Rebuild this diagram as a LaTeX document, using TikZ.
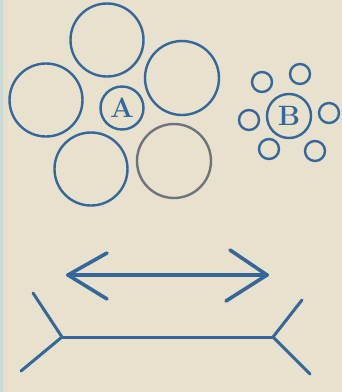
\documentclass[tikz,border=0pt]{standalone}
\begin{document}
\begin{tikzpicture}[x=1pt,y=-1pt,
  bigc/.style={circle,draw=inkblue,line width=2.4pt,minimum size=#1,inner sep=0pt},
  smallc/.style={circle,draw=inkblue,line width=2.4pt,minimum size=20pt,inner sep=0pt},
  lbl/.style={font=\fontsize{28}{28}\selectfont\bfseries,text=inkblue},
  stroke/.style={draw=inkblue,line width=3.6pt,line cap=round,line join=round},
  thinstroke/.style={draw=inkblue,line width=3pt,line cap=round,line join=round}]
\definecolor{inkblue}{HTML}{35679A}
\definecolor{paper}{HTML}{E7E1CE}
\definecolor{greyink}{HTML}{6E747C}
\fill[paper] (0,0) rectangle (342,392);
\fill[cyan!15!paper] (0,0) rectangle (3,392);
\useasboundingbox (0,0) rectangle (342,392);
% group A
\node[bigc=73pt] (top) at (107,40) {};
\node[bigc=73pt] (left) at (46,100) {};
\node[bigc=74pt] (right) at (182,78) {};
\node[bigc=73pt] (botl) at (91,169) {};
\node[bigc=74pt,draw=greyink] (botr) at (174,161) {};
\node[bigc=43pt,lbl] (A) at (122,108) {A};
% group B
\node[bigc=44pt,lbl] (B) at (289,116) {B};
\node[smallc] (b1) at (262,82) {};
\node[smallc] (b2) at (300,74) {};
\node[smallc] (b3) at (249,120) {};
\node[smallc] (b4) at (329,113) {};
\node[smallc] (b5) at (269,149) {};
\node[smallc] (b6) at (315,151) {};
% arrow with outward heads
\coordinate (al) at (68,275);
\coordinate (ar) at (267,275);
\coordinate (alu) at (107,253);
\coordinate (ald) at (107,299);
\coordinate (aru) at (230,250);
\coordinate (ard) at (226,301);
\draw[stroke] (al) -- (ar);
\draw[stroke] (alu) -- (al) -- (ald);
\draw[stroke] (aru) -- (ar) -- (ard);
% line with inward fins
\coordinate (bl) at (62,337);
\coordinate (br) at (273,337);
\coordinate (blu) at (33,293);
\coordinate (bld) at (21,371);
\coordinate (bru) at (302,300);
\coordinate (brd) at (310,374);
\draw[thinstroke] (bl) -- (br);
\draw[thinstroke] (blu) -- (bl) -- (bld);
\draw[thinstroke] (bru) -- (br) -- (brd);
\end{tikzpicture}
\end{document}
